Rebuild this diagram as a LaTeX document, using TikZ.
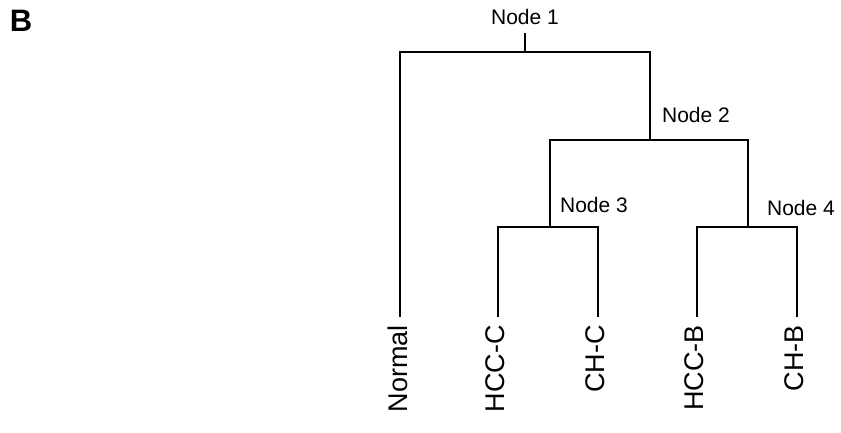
\documentclass[tikz,border=0pt]{standalone}
\usepackage{fontspec}
\setmainfont{Liberation Sans}
\begin{document}
\begin{tikzpicture}[x=1pt,y=-1pt,
  branch/.style={line width=1.6pt,black},
  leaf/.style={rotate=90,anchor=east,inner sep=0pt,font=\fontsize{27}{29}\selectfont},
  nlabel/.style={inner sep=0pt,font=\fontsize{21}{23}\selectfont}]
\useasboundingbox (0,0) rectangle (841,432);
\node[inner sep=0pt,font=\fontsize{31}{33}\selectfont\bfseries] (B) at (21,21) {B};
% junction coordinates
\coordinate (n1top) at (525,33);
\coordinate (n1) at (525,52);
\coordinate (n1l) at (400,52);
\coordinate (n1r) at (650,52);
\coordinate (n2) at (650,140);
\coordinate (n2l) at (550,140);
\coordinate (n2r) at (748,140);
\coordinate (n3) at (550,227);
\coordinate (n3l) at (498,227);
\coordinate (n3r) at (598,227);
\coordinate (n4) at (748,227);
\coordinate (n4l) at (697,227);
\coordinate (n4r) at (797,227);
\coordinate (lnormal) at (400,317);
\coordinate (lhccc) at (498,317);
\coordinate (lchc) at (598,317);
\coordinate (lhccb) at (697,317);
\coordinate (lchb) at (797,317);
% labels
\node[nlabel] (L1) at (525,17) {Node 1};
\node[nlabel] (L2) at (696,115) {Node 2};
\node[nlabel] (L3) at (594,205) {Node 3};
\node[nlabel] (L4) at (801,208) {Node 4};
\node[leaf] (normal) at (398,325) {Normal};
\node[leaf] (hccc) at (495,325) {HCC-C};
\node[leaf] (chc) at (595,325) {CH-C};
\node[leaf] (hccb) at (694,325) {HCC-B};
\node[leaf] (chb) at (794,325) {CH-B};
% branches
\draw[branch] (n1top) -- (n1);
\draw[branch] (lnormal) -- (n1l) -- (n1r) -- (n2);
\draw[branch] (n3) -- (n2l) -- (n2r) -- (n4);
\draw[branch] (lhccc) -- (n3l) -- (n3r) -- (lchc);
\draw[branch] (lhccb) -- (n4l) -- (n4r) -- (lchb);
\end{tikzpicture}
\end{document}
